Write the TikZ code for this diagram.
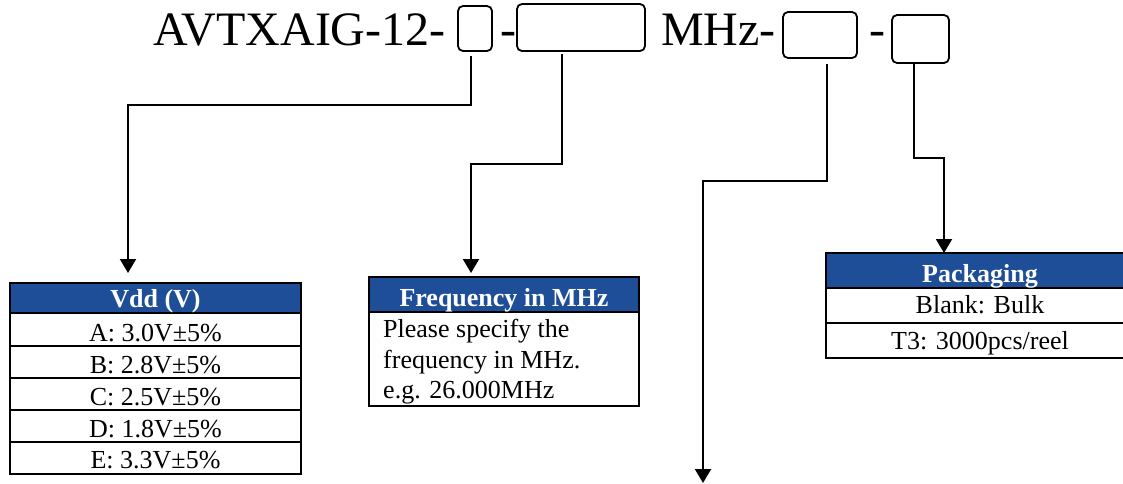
\documentclass[tikz,border=0pt]{standalone}
\usepackage{fontspec}
\setmainfont{Liberation Serif}
\usetikzlibrary{arrows.meta}
\definecolor{hdrblue}{RGB}{31,78,153}
\tikzset{
  tbox/.style={draw, rounded corners=5pt, line width=1.8pt, inner sep=0pt},
  titletxt/.style={font=\fontsize{48}{58}\selectfont, inner sep=0pt, anchor=base west},
  conn/.style={line width=2pt, -{Triangle[width=16pt,length=14pt]}},
  tline/.style={line width=2pt},
  hdrfill/.style={fill=hdrblue},
  htxt/.style={font=\fontsize{26}{30}\selectfont\bfseries, text=white, inner sep=0pt, anchor=base},
  btxt/.style={font=\fontsize{26}{30}\selectfont, inner sep=0pt, anchor=base},
  ltxt/.style={font=\fontsize{26}{30}\selectfont, inner sep=0pt, anchor=base west}
}
\begin{document}
\begin{tikzpicture}[x=1pt,y=-1pt]
\useasboundingbox (0,0) rectangle (1123,483);
\clip (0,0) rectangle (1123,483);
\fill[white] (0,0) rectangle (1123,483);

% title line
\node[titletxt] (t0) at (153,45) {AVTXAIG-12-};
\node[tbox, minimum width=34pt, minimum height=45pt] (b1) at (475,28.5) {};
\node[titletxt] (d1) at (500,45) {-};
\node[tbox, minimum width=128pt, minimum height=47pt] (b2) at (581,27.5) {};
\node[titletxt] (t1) at (661,45) {MHz-};
\node[tbox, minimum width=74pt, minimum height=46pt] (b3) at (820,35) {};
\node[titletxt] (d2) at (869,45) {-};
\node[tbox, minimum width=57pt, minimum height=48pt] (b4) at (920.5,39) {};

% arrow targets
\coordinate (tipA) at (128,273);
\coordinate (tipB) at (471,273);
\coordinate (tipC) at (703,483);
\coordinate (tipD) at (944,253);

\draw[conn] ([xshift=-4pt,yshift=-4pt]b1.south) -- ++(0,49) -| (tipA);
\draw[conn] ([xshift=-19pt,yshift=-2pt]b2.south) -- ++(0,110) -| (tipB);
\draw[conn] ([xshift=7pt,yshift=-5pt]b3.south) -- ++(0,117) -| (tipC);
\draw[conn] ([xshift=-6.5pt]b4.south) -- ++(0,94) -| (tipD);

% Vdd table
\fill[hdrfill] (10,283) rectangle (301,313);
\draw[tline] (10,283) rectangle (301,474);
\foreach \yy in {313,346,378,410,442} \draw[tline] (10,\yy) -- (301,\yy);
\node[htxt] (vh) at (155.5,307) {Vdd (V)};
\node[btxt] (va) at (155.5,341) {A: 3.0V±5\%};
\node[btxt] (vb) at (155.5,373) {B: 2.8V±5\%};
\node[btxt] (vc) at (155.5,405) {C: 2.5V±5\%};
\node[btxt] (vd) at (155.5,437) {D: 1.8V±5\%};
\node[btxt] (ve) at (155.5,468) {E: 3.3V±5\%};

% Frequency table
\fill[hdrfill] (369,277) rectangle (639,312);
\draw[tline] (369,277) rectangle (639,406);
\draw[tline] (369,312) -- (639,312);
\node[htxt] (fh) at (504,306) {Frequency in MHz};
\node[ltxt] (f1) at (383,337) {Please specify the};
\node[ltxt] (f2) at (383,368) {frequency in MHz.};
\node[ltxt] (f3) at (383,398) {e.g. 26.000MHz};

% Packaging table
\fill[hdrfill] (826,253) rectangle (1135,288);
\draw[tline] (826,253) rectangle (1135,358);
\foreach \yy in {288,323} \draw[tline] (826,\yy) -- (1135,\yy);
\node[htxt] (ph) at (980,282) {Packaging};
\node[btxt] (p1) at (980,313) {Blank: Bulk};
\node[btxt] (p2) at (980,349) {T3: 3000pcs/reel};
\end{tikzpicture}
\end{document}
